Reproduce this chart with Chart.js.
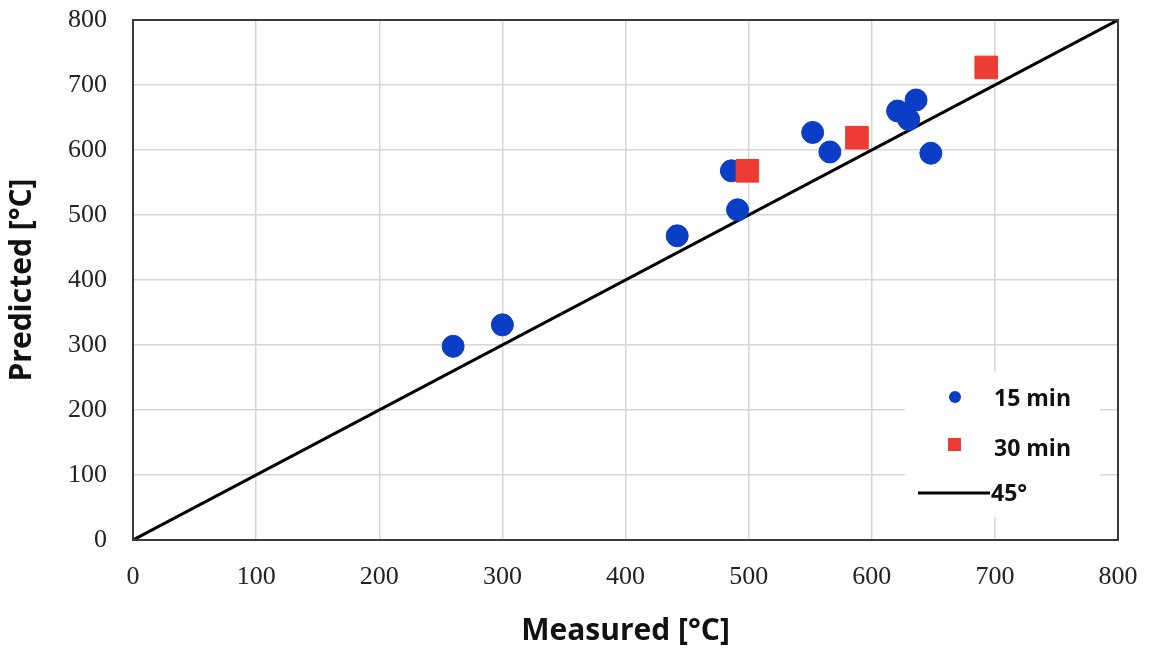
<!DOCTYPE html>
<html>
<head>
<meta charset="utf-8">
<title>Measured vs Predicted</title>
<script src="https://cdn.jsdelivr.net/npm/chart.js@4.4.1/dist/chart.umd.min.js"></script>
<style>
  html, body { margin: 0; padding: 0; background: #ffffff; }
  #wrap { position: relative; width: 1151px; height: 653px; }
</style>
</head>
<body>
<div id="wrap"><canvas id="chart"></canvas></div>
<script>
// data
const measured15 = [260, 300, 442, 486, 491, 552, 566, 621, 630, 636, 648];
const predicted15 = [298, 331, 468, 568, 508, 627, 597, 660, 647, 677, 595];
const measured30 = [499, 588, 693];
const predicted30 = [568, 619, 727];
const lineX = [0, 800];
const lineY = [0, 800];
const tickValues = [0, 100, 200, 300, 400, 500, 600, 700, 800];

const seriesLabels = ['15 min', '30 min', '45°'];
const blue = '#0a3ec6';
const red = '#ec3c33';

const toPoints = (xs, ys) => xs.map((x, i) => ({ x: x, y: ys[i] }));

// frame round the plot area
const frame = {
    id: 'frame',
    afterDraw(chart) {
        const a = chart.chartArea;
        const ctx = chart.ctx;
        ctx.save();
        ctx.strokeStyle = '#3a3a3a';
        ctx.lineWidth = 2;
        ctx.strokeRect(a.left, a.top, a.right - a.left, a.bottom - a.top);
        ctx.restore();
    }
};

// legend box inside the plot, lower right
const innerLegend = {
    id: 'innerLegend',
    afterDraw(chart) {
        const ctx = chart.ctx;
        const a = chart.chartArea;
        const x0 = a.right - 213, y0 = a.bottom - 168;
        ctx.save();
        ctx.fillStyle = '#ffffff';
        ctx.fillRect(x0, y0, 195, 145);
        ctx.font = 'bold 23px "Open Sans", sans-serif';
        ctx.textBaseline = 'middle';

        // 15 min
        ctx.beginPath();
        ctx.arc(955, 397, 6, 0, Math.PI * 2);
        ctx.fillStyle = blue;
        ctx.fill();
        ctx.fillStyle = '#111111';
        ctx.fillText(seriesLabels[0], 994, 399);

        // 30 min
        ctx.fillStyle = red;
        ctx.fillRect(948, 438, 13, 13);
        ctx.fillStyle = '#111111';
        ctx.fillText(seriesLabels[1], 994, 449);

        // 45 deg
        ctx.strokeStyle = '#000000';
        ctx.lineWidth = 3;
        ctx.beginPath();
        ctx.moveTo(918, 493);
        ctx.lineTo(990, 493);
        ctx.stroke();
        ctx.fillText(seriesLabels[2], 991, 494);
        ctx.restore();
    }
};

const tickFont = { family: '"Liberation Serif", "Times New Roman", serif', size: 26 };
const titleFont = { family: '"Open Sans", sans-serif', size: 30, weight: 'bold' };

new Chart(document.getElementById('chart'), {
    type: 'scatter',
    data: {
        datasets: [
            {
                label: seriesLabels[2],
                type: 'line',
                data: toPoints(lineX, lineY),
                borderColor: '#000000',
                borderWidth: 3,
                pointRadius: 0,
                fill: false,
                order: 3
            },
            {
                label: seriesLabels[0],
                data: toPoints(measured15, predicted15),
                backgroundColor: blue,
                borderColor: blue,
                pointRadius: 11,
                pointStyle: 'circle',
                order: 2
            },
            {
                label: seriesLabels[1],
                data: toPoints(measured30, predicted30),
                backgroundColor: red,
                borderColor: red,
                pointRadius: 16,
                pointStyle: 'rect',
                order: 1
            }
        ]
    },
    options: {
        responsive: true,
        maintainAspectRatio: false,
        animation: false,
        layout: { padding: { left: 0, right: 33, top: 20, bottom: 0 } },
        plugins: {
            legend: { display: false },
            tooltip: { enabled: false }
        },
        scales: {
            x: {
                type: 'linear',
                min: 0,
                max: 800,
                afterBuildTicks: s => { s.ticks = tickValues.map(v => ({ value: v })); },
                afterFit: s => {
                    s.height = 113;
                    s.paddingLeft = 0;
                    s.paddingRight = 0;
                },
                ticks: { color: '#222222', font: tickFont, padding: 22 },
                grid: { color: '#d6d6d6', lineWidth: 1.5, drawTicks: false },
                border: { display: false },
                title: {
                    display: true,
                    text: 'Measured [°C]',
                    color: '#111111',
                    font: titleFont,
                    padding: { top: 2 }
                }
            },
            y: {
                type: 'linear',
                min: 0,
                max: 800,
                afterBuildTicks: s => { s.ticks = tickValues.map(v => ({ value: v })); },
                afterFit: s => {
                    s.width = 133;
                    s.paddingTop = 0;
                    s.paddingBottom = 0;
                },
                ticks: { color: '#222222', font: tickFont, padding: 26 },
                grid: { color: '#d6d6d6', lineWidth: 1.5, drawTicks: false },
                border: { display: false },
                title: {
                    display: true,
                    text: 'Predicted [°C]',
                    color: '#111111',
                    font: titleFont,
                    padding: { top: 4, bottom: 0 }
                }
            }
        }
    },
    plugins: [frame, innerLegend]
});
</script>
</body>
</html>
